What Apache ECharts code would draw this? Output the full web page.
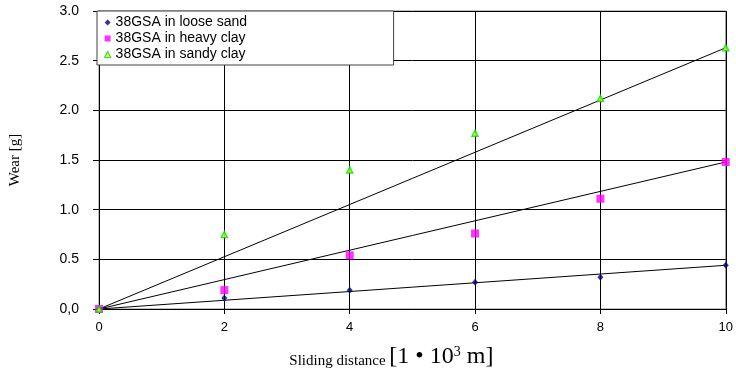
<!DOCTYPE html>
<html>
<head>
<meta charset="utf-8">
<script src="https://cdn.jsdelivr.net/npm/echarts@6/dist/echarts.min.js"></script>
<style>
  html, body { margin: 0; padding: 0; background: #fff; }
  #chart { width: 736px; height: 380px; }
</style>
</head>
<body>
<div id="chart"></div>
<script>
// sliding distance [1000 m]
const distance = [0, 2, 4, 6, 8, 10]
// wear [g]
const looseSand = [0, 0.11, 0.19, 0.27, 0.32, 0.44]
const heavyClay = [0, 0.19, 0.54, 0.76, 1.11, 1.48]
const sandyClay = [0, 0.75, 1.40, 1.77, 2.12, 2.63]
const seriesNames = ['38GSA in loose sand', '38GSA in heavy clay', '38GSA in sandy clay']
const yTicks = ['0,0', '0.5', '1.0', '1.5', '2.0', '2.5', '3.0']

const pairs = vals => distance.map((d, i) => [d, vals[i]])
// trend line from the first to the last measured point
const trend = vals => [[distance[0], vals[0]], [distance[distance.length - 1], vals[vals.length - 1]]]

const chart = echarts.init(document.getElementById('chart'))

const lineStyle = { color: '#000', width: 1 }
const serif = 'Liberation Serif, Times New Roman, serif'

chart.setOption({
  animation: false,
  textStyle: { fontFamily: 'Liberation Sans, Arial, sans-serif' },
  grid: {
    left: 96,
    right: 7,
    top: 11,
    bottom: 71,
    show: true,
    borderColor: '#808080',
    borderWidth: 1
  },
  legend: {
    data: [
      { name: seriesNames[0], icon: 'diamond', itemStyle: { color: '#000080' } },
      { name: seriesNames[1], icon: 'rect' },
      { name: seriesNames[2], icon: 'triangle', itemStyle: { color: '#e8ff40', borderColor: '#00e000', borderWidth: 1.2 } }
    ],
    orient: 'vertical',
    left: 97,
    top: 11,
    itemWidth: 6,
    itemHeight: 6,
    itemGap: 1,
    padding: [4, 8, 3, 7],
    backgroundColor: '#fff',
    borderColor: '#404040',
    borderWidth: 1,
    textStyle: { fontSize: 14, color: '#000', width: 270, lineHeight: 15 }
  },
  xAxis: {
    type: 'value',
    min: 0,
    max: 10,
    interval: 2,
    name: '{a|Sliding distance }{b|[1 • 10}{c|3}{b| m]}',
    nameLocation: 'middle',
    nameGap: 36,
    nameTextStyle: {
      padding: [0, 42, 0, 0],
      rich: {
        a: { fontFamily: serif, fontSize: 15, color: '#000', verticalAlign: 'bottom' },
        b: { fontFamily: serif, fontSize: 24, color: '#000', verticalAlign: 'bottom' },
        c: { fontFamily: serif, fontSize: 14, color: '#000', verticalAlign: 'top', padding: [0, 0, 10, 0] }
      }
    },
    axisLine: { lineStyle: lineStyle },
    axisTick: { show: true, inside: false, length: 5, lineStyle: lineStyle },
    axisLabel: { color: '#000', fontSize: 13, margin: 12 },
    splitLine: { show: true, lineStyle: { color: '#000', width: 1 } }
  },
  yAxis: {
    type: 'value',
    min: 0,
    max: 3,
    interval: 0.5,
    name: 'Wear [g]',
    nameLocation: 'middle',
    nameGap: 76,
    nameTextStyle: { fontFamily: serif, fontSize: 15, color: '#000' },
    axisLine: { show: true, lineStyle: lineStyle },
    axisTick: { show: true, inside: false, length: 6, lineStyle: lineStyle },
    axisLabel: {
      color: '#000',
      fontSize: 14,
      margin: 20,
      formatter: v => yTicks[Math.round(v / 0.5)]
    },
    splitLine: { show: true, lineStyle: { color: '#000', width: 1 } }
  },
  series: [
    { name: 'trend1', type: 'line', data: trend(looseSand), symbol: 'none', lineStyle: lineStyle, silent: true, z: 1 },
    { name: 'trend2', type: 'line', data: trend(heavyClay), symbol: 'none', lineStyle: lineStyle, silent: true, z: 1 },
    { name: 'trend3', type: 'line', data: trend(sandyClay), symbol: 'none', lineStyle: lineStyle, silent: true, z: 1 },
    {
      name: seriesNames[0],
      type: 'scatter',
      data: pairs(looseSand),
      symbol: 'diamond',
      symbolSize: [6, 7],
      itemStyle: { color: '#000080' },
      clip: false,
      z: 3
    },
    {
      name: seriesNames[1],
      type: 'scatter',
      data: pairs(heavyClay),
      symbol: 'rect',
      symbolSize: 8,
      itemStyle: { color: '#ff00ff' },
      clip: false,
      z: 3
    },
    {
      name: seriesNames[2],
      type: 'scatter',
      data: pairs(sandyClay),
      symbol: 'triangle',
      symbolSize: [6, 6],
      itemStyle: { color: '#e8ff40', borderColor: '#00e000', borderWidth: 1.5 },
      clip: false,
      z: 3
    }
  ]
})
</script>
</body>
</html>
